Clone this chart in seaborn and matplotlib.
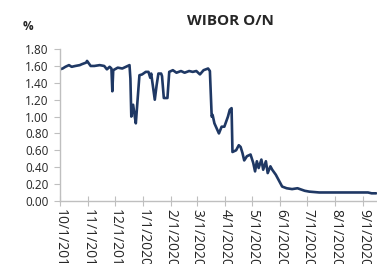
import pandas as pd
import seaborn as sns
import matplotlib
matplotlib.use("Agg")
from matplotlib import pyplot as plt
import matplotlib.dates as mdates
from matplotlib.ticker import FuncFormatter, MultipleLocator

# WIBOR O/N, values
dates = ["2019-10-01", "2019-10-04", "2019-10-07", "2019-10-11", "2019-10-14",
         "2019-10-18", "2019-10-23", "2019-10-25", "2019-10-30", "2019-10-31",
         "2019-11-04", "2019-11-08", "2019-11-14", "2019-11-19", "2019-11-22",
         "2019-11-25", "2019-11-27", "2019-11-28", "2019-11-29", "2019-12-04",
         "2019-12-09", "2019-12-13", "2019-12-17", "2019-12-18", "2019-12-19",
         "2019-12-21", "2019-12-23", "2019-12-24", "2019-12-28", "2019-12-31",
         "2020-01-04", "2020-01-07", "2020-01-09", "2020-01-10", "2020-01-14",
         "2020-01-16", "2020-01-18", "2020-01-21", "2020-01-22", "2020-01-24",
         "2020-01-28", "2020-01-30", "2020-02-03", "2020-02-07", "2020-02-12",
         "2020-02-16", "2020-02-21", "2020-02-25", "2020-02-29", "2020-03-04",
         "2020-03-08", "2020-03-13", "2020-03-15", "2020-03-17", "2020-03-18",
         "2020-03-20", "2020-03-25", "2020-03-28", "2020-03-31", "2020-04-04",
         "2020-04-06", "2020-04-08", "2020-04-09", "2020-04-13", "2020-04-16",
         "2020-04-18", "2020-04-20", "2020-04-22", "2020-04-25", "2020-04-29",
         "2020-05-02", "2020-05-04", "2020-05-06", "2020-05-08", "2020-05-11",
         "2020-05-13", "2020-05-16", "2020-05-18", "2020-05-21", "2020-05-23",
         "2020-05-27", "2020-05-31", "2020-06-03", "2020-06-08", "2020-06-14",
         "2020-06-20", "2020-06-28", "2020-07-03", "2020-07-14", "2020-08-06",
         "2020-08-28", "2020-09-06", "2020-09-10", "2020-09-15"]
rates = [1.56, 1.57, 1.59, 1.61, 1.59,
         1.60, 1.61, 1.62, 1.64, 1.66,
         1.60, 1.60, 1.61, 1.60, 1.56,
         1.59, 1.57, 1.30, 1.55, 1.58,
         1.57, 1.59, 1.61, 1.45, 1.00,
         1.14, 0.99, 0.92, 1.49, 1.50,
         1.53, 1.53, 1.46, 1.51, 1.20,
         1.37, 1.51, 1.51, 1.48, 1.22,
         1.22, 1.53, 1.55, 1.52, 1.54,
         1.52, 1.54, 1.53, 1.54, 1.50,
         1.55, 1.57, 1.54, 1.00, 1.02,
         0.92, 0.80, 0.88, 0.88, 1.00,
         1.08, 1.10, 0.58, 0.60, 0.66,
         0.64, 0.57, 0.48, 0.53, 0.55,
         0.45, 0.35, 0.47, 0.39, 0.49,
         0.37, 0.47, 0.33, 0.41, 0.37,
         0.31, 0.23, 0.17, 0.15, 0.14,
         0.15, 0.12, 0.11, 0.10, 0.10,
         0.10, 0.10, 0.09, 0.09]

df = pd.DataFrame({"date": pd.to_datetime(dates), "rate": rates})

sns.set_style("white")
plt.rcParams["font.family"] = ["Open Sans", "DejaVu Sans"]

fig = plt.figure(figsize=(3.77, 2.64), dpi=100)
ax = fig.add_axes([0.159, 0.239, 0.841, 0.575])

sns.lineplot(data=df, x="date", y="rate", color="#1f3864", linewidth=1.9, ax=ax)

ax.set_xlim(pd.Timestamp("2019-10-01"), pd.Timestamp("2020-09-16"))
ax.set_ylim(0, 1.8)
ax.yaxis.set_major_locator(MultipleLocator(0.2))
ax.yaxis.set_major_formatter(FuncFormatter(lambda v, p: f"{v:.2f}"))
ax.xaxis.set_major_locator(mdates.MonthLocator())
ax.xaxis.set_major_formatter(FuncFormatter(
    lambda v, p: "{d.month}/{d.day}/{d.year}".format(d=mdates.num2date(v))))

ax.set_xlabel("")
ax.set_ylabel("")
for side in ["top", "right"]:
    ax.spines[side].set_visible(False)
for side in ["left", "bottom"]:
    ax.spines[side].set_color("#bfbfbf")
    ax.spines[side].set_linewidth(1.0)

ax.tick_params(axis="y", which="major", direction="out", length=4,
               color="#bfbfbf", labelsize=8.5, pad=4, left=True)
ax.tick_params(axis="x", which="major", direction="inout", length=7,
               color="#bfbfbf", labelsize=10, pad=2, bottom=True)
for lbl in ax.get_xticklabels():
    lbl.set_rotation(-90)
    lbl.set_ha("center")
    lbl.set_va("top")

fig.text(0.61, 0.92, "WIBOR O/N", ha="center", va="center",
         fontsize=11, fontweight="bold")
fig.text(0.074, 0.90, "%", ha="center", va="center",
         fontsize=8.5, fontweight="bold")

fig.savefig("out.png", dpi=100)
